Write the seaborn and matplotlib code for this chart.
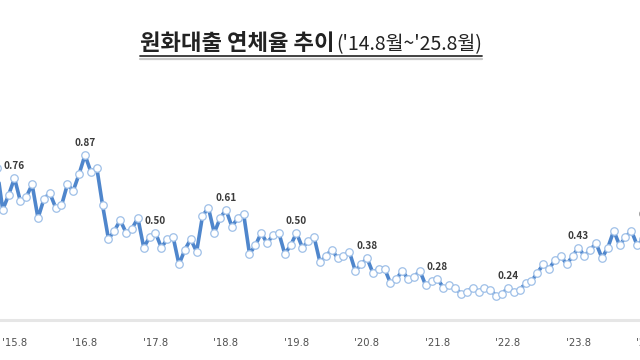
import matplotlib
matplotlib.use("Agg")
import matplotlib.pyplot as plt
import seaborn as sns
import pandas as pd
from matplotlib.lines import Line2D

# ---- data (원화대출 연체율, %, month-end) ----
# month index: 0 = '14.8 ; series starts at '15.5 (index 9)
start_index = 9
v2015 = [0.81, 0.61, 0.68, 0.76, 0.65, 0.67, 0.73, 0.57]            # May-Dec
v2016 = [0.66, 0.69, 0.62, 0.63, 0.73, 0.70, 0.78, 0.87, 0.79, 0.81, 0.63, 0.47]
v2017 = [0.51, 0.56, 0.50, 0.52, 0.57, 0.43, 0.48, 0.50, 0.43, 0.47, 0.48, 0.35]
v2018 = [0.42, 0.47, 0.41, 0.58, 0.62, 0.50, 0.57, 0.61, 0.53, 0.57, 0.59, 0.40]
v2019 = [0.44, 0.50, 0.45, 0.49, 0.50, 0.40, 0.44, 0.50, 0.43, 0.46, 0.48, 0.36]
v2020 = [0.39, 0.42, 0.38, 0.39, 0.41, 0.32, 0.35, 0.38, 0.31, 0.33, 0.33, 0.26]
v2021 = [0.28, 0.32, 0.28, 0.29, 0.32, 0.25, 0.27, 0.28, 0.24, 0.25, 0.24, 0.21]
v2022 = [0.22, 0.24, 0.22, 0.24, 0.23, 0.20, 0.21, 0.24, 0.22, 0.23, 0.26, 0.27]
v2023 = [0.31, 0.35, 0.33, 0.37, 0.39, 0.35, 0.39, 0.43, 0.39, 0.42, 0.45, 0.38]
v2024 = [0.43, 0.51, 0.44, 0.48, 0.51, 0.44, 0.47, 0.53]            # Jan-Aug

tick_labels = ["'15.8", "'16.8", "'17.8", "'18.8", "'19.8",
               "'20.8", "'21.8", "'22.8", "'23.8", "'24.8"]
tick_index = [12, 24, 36, 48, 60, 72, 84, 96, 108, 120]

title_main = "원화대출 연체율 추이"
title_sub = "('14.8월~'25.8월)"

values = v2015 + v2016 + v2017 + v2018 + v2019 + v2020 + v2021 + v2022 + v2023 + v2024
df = pd.DataFrame({"t": list(range(start_index, start_index + len(values))), "rate": values})

sns.set_theme(style="white")
plt.rcParams["font.family"] = ["Noto Sans CJK KR", "DejaVu Sans"]

W, H = 640, 360
fig = plt.figure(figsize=(6.4, 3.6), dpi=100)
# axes placed so that the figure shows a cropped window of the chart
px_per_unit = 210.4
y_top_px, y_bot_px = 127.65, 320.0
ymin = 0.87 - (y_bot_px - 155) / px_per_unit
ax = fig.add_axes([-9 / W, (H - y_bot_px) / H, 669.75 / W, (y_bot_px - y_top_px) / H])

sns.lineplot(data=df, x="t", y="rate", ax=ax, color="#4f86cc", linewidth=2.6,
             marker="o", markersize=5.4, markerfacecolor="white",
             markeredgecolor="#9fc0e8", markeredgewidth=0.9)

ax.set_xlim(8, 122)
ax.set_ylim(ymin, 1.0)
for s in ["top", "right", "left"]:
    ax.spines[s].set_visible(False)
ax.spines["bottom"].set_color("#e6e6e6")
ax.spines["bottom"].set_linewidth(2.2)
ax.set_yticks([])
ax.set_xticks(tick_index)
ax.set_xticklabels(tick_labels, fontsize=7.2, color="#505050",
                   family=["Liberation Sans Narrow", "DejaVu Sans"])
ax.tick_params(axis="x", length=0, pad=13)
ax.set_xlabel("")
ax.set_ylabel("")

# data labels at each August
for ti in tick_index:
    v = df.loc[df["t"] == ti, "rate"].iloc[0]
    ax.annotate(f"{v:.2f}", (ti, v), xytext=(0, 12), textcoords="offset pixels",
                ha="center", va="center", fontsize=7.2, fontweight="bold",
                color="#3a3a3a", annotation_clip=False)

# title with underline
t1 = fig.text(0, 1 - 44 / H, title_main, fontsize=16, fontweight="bold",
              color="#222222", va="center", ha="left")
t2 = fig.text(0, 1 - 44.5 / H, title_sub, fontsize=14, fontweight="normal",
              color="#222222", va="center", ha="left")
fig.canvas.draw()
r = fig.canvas.get_renderer()
w1 = t1.get_window_extent(r).width
w2 = t2.get_window_extent(r).width
total = w1 + w2 + 1
x0 = 311 - total / 2
t1.set_x(x0 / W)
t2.set_x((x0 + w1 + 1) / W)
fig.add_artist(Line2D([x0 / W, (x0 + total) / W], [1 - 58.5 / H, 1 - 58.5 / H],
                      color="#c8c8c8", linewidth=1.6, transform=fig.transFigure))
fig.add_artist(Line2D([x0 / W, (x0 + total) / W], [1 - 56 / H, 1 - 56 / H],
                      color="#333333", linewidth=1.3, transform=fig.transFigure))

fig.savefig("out.png", dpi=100)
